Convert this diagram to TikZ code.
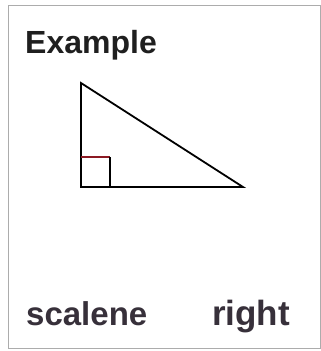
\documentclass[tikz,border=0pt]{standalone}
\usepackage{fontspec}
\setmainfont{Liberation Sans}
\usetikzlibrary{positioning}
\definecolor{markred}{RGB}{140,25,35}
\definecolor{inkgray}{RGB}{55,48,58}

\begin{document}
\begin{tikzpicture}[x=1pt, y=-1pt,
    lbl/.style={anchor=base west, inner sep=0pt,
      font=\fontsize{33}{38}\selectfont\bfseries, text=inkgray},
    side/.style={line width=1.8pt, line join=miter},
    sqmark/.style={line width=1.2pt}]
  \useasboundingbox (0,0) rectangle (321,351);
  % card frame
  \draw[gray!65, line width=1pt] (8,5) rectangle (320,348);
  \node[lbl, text=black!88, font=\fontsize{32}{38}\selectfont\bfseries]
    (title) at (25,53) {Example};
  % right triangle
  \coordinate (apex) at (81,83);
  \coordinate (corner) at (81,187);
  \coordinate (tip) at (243,187);
  \coordinate (sqtop) at (81,157);
  \coordinate (sqout) at (110,157);
  \coordinate (sqbase) at (110,187);
  \draw[side] (apex) -- (tip) -- (corner) -- cycle;
  \draw[sqmark, markred] (sqtop) -- (sqout);
  \draw[sqmark] (sqout) -- (sqbase);
  \node[lbl] (kind) at (26,325) {scalene};
  \node[lbl, font=\fontsize{35}{40}\selectfont\bfseries]
    (angle) at (212,325) {right};
\end{tikzpicture}
\end{document}
